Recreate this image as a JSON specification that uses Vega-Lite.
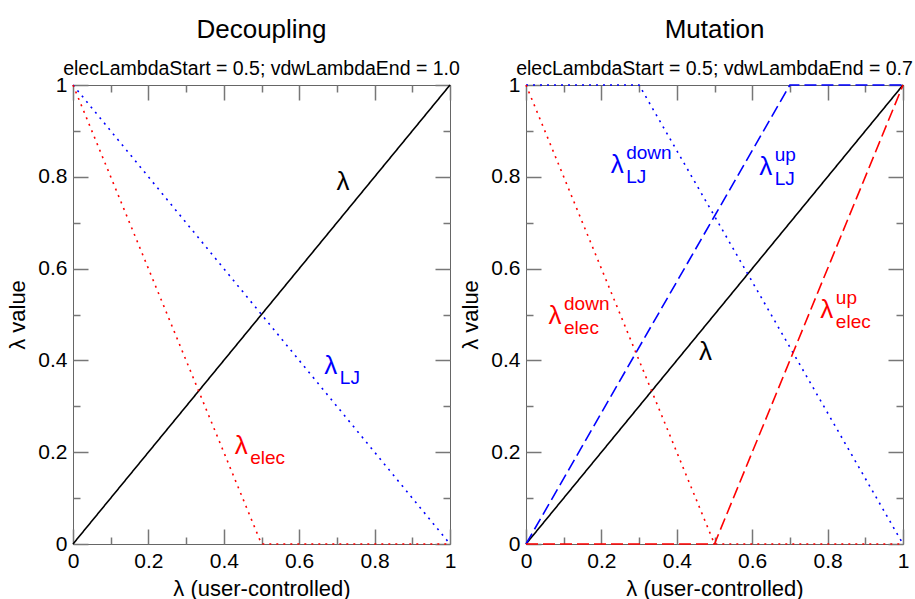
{
  "$schema": "https://vega.github.io/schema/vega-lite/v6.json",
  "padding": {"left": 6, "top": 16, "right": 0, "bottom": 0},
  "background": "white",
  "spacing": 76,
  "bounds": "flush",
  "datasets": {
    "lines": [
      {"panel": "L", "line": "lam", "group": "lam", "style": "solid", "x": 0, "y": 0},
      {"panel": "L", "line": "lam", "group": "lam", "style": "solid", "x": 1, "y": 1},
      {"panel": "L", "line": "LJ", "group": "LJ", "style": "dotted", "x": 0, "y": 1},
      {"panel": "L", "line": "LJ", "group": "LJ", "style": "dotted", "x": 1, "y": 0},
      {"panel": "L", "line": "elec", "group": "elec", "style": "dotted", "x": 0, "y": 1},
      {"panel": "L", "line": "elec", "group": "elec", "style": "dotted", "x": 0.5, "y": 0},
      {"panel": "L", "line": "elec", "group": "elec", "style": "dotted", "x": 1, "y": 0},
      {"panel": "R", "line": "lam", "group": "lam", "style": "solid", "x": 0, "y": 0},
      {"panel": "R", "line": "lam", "group": "lam", "style": "solid", "x": 1, "y": 1},
      {"panel": "R", "line": "LJup", "group": "LJ", "style": "dashed", "x": 0, "y": 0},
      {"panel": "R", "line": "LJup", "group": "LJ", "style": "dashed", "x": 0.7, "y": 1},
      {"panel": "R", "line": "LJup", "group": "LJ", "style": "dashed", "x": 1, "y": 1},
      {"panel": "R", "line": "LJdown", "group": "LJ", "style": "dotted", "x": 0, "y": 1},
      {"panel": "R", "line": "LJdown", "group": "LJ", "style": "dotted", "x": 0.3, "y": 1},
      {"panel": "R", "line": "LJdown", "group": "LJ", "style": "dotted", "x": 1, "y": 0},
      {"panel": "R", "line": "elecup", "group": "elec", "style": "dashed", "x": 0, "y": 0},
      {"panel": "R", "line": "elecup", "group": "elec", "style": "dashed", "x": 0.5, "y": 0},
      {"panel": "R", "line": "elecup", "group": "elec", "style": "dashed", "x": 1, "y": 1},
      {"panel": "R", "line": "elecdown", "group": "elec", "style": "dotted", "x": 0, "y": 1},
      {"panel": "R", "line": "elecdown", "group": "elec", "style": "dotted", "x": 0.5, "y": 0},
      {"panel": "R", "line": "elecdown", "group": "elec", "style": "dotted", "x": 1, "y": 0}
    ],
    "labels": [
      {"panel": "L", "group": "lam", "x": 0.716, "y": 0.789, "main": "λ", "sub": "", "sup": ""},
      {"panel": "L", "group": "LJ", "x": 0.684, "y": 0.388, "main": "λ", "sub": "LJ", "sup": ""},
      {"panel": "L", "group": "elec", "x": 0.446, "y": 0.214, "main": "λ", "sub": "elec", "sup": ""},
      {"panel": "R", "group": "LJ", "x": 0.242, "y": 0.826, "main": "λ", "sub": "LJ", "sup": "down"},
      {"panel": "R", "group": "LJ", "x": 0.636, "y": 0.821, "main": "λ", "sub": "LJ", "sup": "up"},
      {"panel": "R", "group": "elec", "x": 0.077, "y": 0.497, "main": "λ", "sub": "elec", "sup": "down"},
      {"panel": "R", "group": "elec", "x": 0.798, "y": 0.51, "main": "λ", "sub": "elec", "sup": "up"},
      {"panel": "R", "group": "lam", "x": 0.476, "y": 0.418, "main": "λ", "sub": "", "sup": ""}
    ]
  },
  "hconcat": [
    {
      "width": 377,
      "height": 459,
      "title": {"text": "Decoupling", "subtitle": "elecLambdaStart = 0.5; vdwLambdaEnd = 1.0"},
      "resolve": {"axis": {"x": "independent", "y": "independent"}},
      "layer": [
        {
          "data": {"name": "lines"},
          "transform": [{"filter": "datum.panel === 'L'"}],
          "mark": {"type": "line", "strokeWidth": 1.6, "strokeCap": "butt"},
          "encoding": {
            "x": {"field": "x", "type": "quantitative", "scale": {"domain": [0, 1], "nice": false},
              "axis": {"orient": "bottom", "values": [0, 0.2, 0.4, 0.6, 0.8, 1], "format": "~g", "offset": -15, "tickSize": 15, "tickColor": "#777777", "tickWidth": 1.5, "domain": false,
                "labelPadding": 6, "title": "λ (user-controlled)", "titlePadding": 7}},
            "y": {"field": "y", "type": "quantitative", "scale": {"domain": [0, 1], "nice": false},
              "axis": {"orient": "left", "values": [0, 0.2, 0.4, 0.6, 0.8, 1], "format": "~g", "offset": -15, "tickSize": 15, "tickColor": "#777777", "tickWidth": 1.5, "domain": false,
                "labelPadding": 6, "title": "λ value", "titlePadding": 8}},
            "color": {"field": "group", "type": "nominal", "scale": {"domain": ["lam", "LJ", "elec"], "range": ["#000000", "#0000ff", "#ff0000"]}, "legend": null},
            "strokeDash": {"field": "style", "type": "nominal", "scale": {"domain": ["solid", "dotted", "dashed"], "range": [[1, 0], [2, 5], [12, 5]]}, "legend": null},
            "detail": {"field": "line"}
          }
        },
        {
          "data": {"name": "labels"},
          "transform": [{"filter": "datum.panel === 'L'"}],
          "mark": {"type": "text", "fontSize": 26, "font": "Liberation Sans", "align": "center", "baseline": "middle"},
          "encoding": {
            "x": {"field": "x", "type": "quantitative",
              "axis": {"orient": "bottom", "values": [0.1, 0.3, 0.5, 0.7, 0.9], "labels": false, "title": null, "domain": false, "offset": -7, "tickSize": 7, "tickColor": "#777777", "tickWidth": 1.5}},
            "y": {"field": "y", "type": "quantitative",
              "axis": {"orient": "left", "values": [0.1, 0.3, 0.5, 0.7, 0.9], "labels": false, "title": null, "domain": false, "offset": -7, "tickSize": 7, "tickColor": "#777777", "tickWidth": 1.5}},
            "text": {"field": "main"},
            "color": {"field": "group", "type": "nominal", "legend": null}
          }
        },
        {
          "data": {"name": "labels"},
          "transform": [{"filter": "datum.panel === 'L'"}],
          "mark": {"type": "text", "fontSize": 19, "font": "Liberation Sans", "align": "left", "baseline": "middle", "dx": 9, "dy": 12},
          "encoding": {
            "x": {"field": "x", "type": "quantitative",
              "axis": {"orient": "top", "values": [0, 0.2, 0.4, 0.6, 0.8, 1], "labels": false, "title": null, "domain": false, "offset": -15, "tickSize": 15, "tickColor": "#777777", "tickWidth": 1.5}},
            "y": {"field": "y", "type": "quantitative",
              "axis": {"orient": "right", "values": [0, 0.2, 0.4, 0.6, 0.8, 1], "labels": false, "title": null, "domain": false, "offset": -15, "tickSize": 15, "tickColor": "#777777", "tickWidth": 1.5}},
            "text": {"field": "sub"},
            "color": {"field": "group", "type": "nominal", "legend": null}
          }
        },
        {
          "data": {"name": "labels"},
          "transform": [{"filter": "datum.panel === 'L'"}],
          "mark": {"type": "text", "fontSize": 19, "font": "Liberation Sans", "align": "left", "baseline": "middle", "dx": 9, "dy": -12},
          "encoding": {
            "x": {"field": "x", "type": "quantitative",
              "axis": {"orient": "top", "values": [0.1, 0.3, 0.5, 0.7, 0.9], "labels": false, "title": null, "domain": false, "offset": -7, "tickSize": 7, "tickColor": "#777777", "tickWidth": 1.5}},
            "y": {"field": "y", "type": "quantitative",
              "axis": {"orient": "right", "values": [0.1, 0.3, 0.5, 0.7, 0.9], "labels": false, "title": null, "domain": false, "offset": -7, "tickSize": 7, "tickColor": "#777777", "tickWidth": 1.5}},
            "text": {"field": "sup"},
            "color": {"field": "group", "type": "nominal", "legend": null}
          }
        }
      ]
    },
    {
      "width": 377,
      "height": 459,
      "title": {"text": "Mutation", "subtitle": "elecLambdaStart = 0.5; vdwLambdaEnd = 0.7"},
      "resolve": {"axis": {"x": "independent", "y": "independent"}},
      "layer": [
        {
          "data": {"name": "lines"},
          "transform": [{"filter": "datum.panel === 'R'"}],
          "mark": {"type": "line", "strokeWidth": 1.6, "strokeCap": "butt"},
          "encoding": {
            "x": {"field": "x", "type": "quantitative", "scale": {"domain": [0, 1], "nice": false},
              "axis": {"orient": "bottom", "values": [0, 0.2, 0.4, 0.6, 0.8, 1], "format": "~g", "offset": -15, "tickSize": 15, "tickColor": "#777777", "tickWidth": 1.5, "domain": false,
                "labelPadding": 6, "title": "λ (user-controlled)", "titlePadding": 7}},
            "y": {"field": "y", "type": "quantitative", "scale": {"domain": [0, 1], "nice": false},
              "axis": {"orient": "left", "values": [0, 0.2, 0.4, 0.6, 0.8, 1], "format": "~g", "offset": -15, "tickSize": 15, "tickColor": "#777777", "tickWidth": 1.5, "domain": false,
                "labelPadding": 6, "title": "λ value", "titlePadding": 8}},
            "color": {"field": "group", "type": "nominal", "scale": {"domain": ["lam", "LJ", "elec"], "range": ["#000000", "#0000ff", "#ff0000"]}, "legend": null},
            "strokeDash": {"field": "style", "type": "nominal", "scale": {"domain": ["solid", "dotted", "dashed"], "range": [[1, 0], [2, 5], [12, 5]]}, "legend": null},
            "detail": {"field": "line"}
          }
        },
        {
          "data": {"name": "labels"},
          "transform": [{"filter": "datum.panel === 'R'"}],
          "mark": {"type": "text", "fontSize": 26, "font": "Liberation Sans", "align": "center", "baseline": "middle"},
          "encoding": {
            "x": {"field": "x", "type": "quantitative",
              "axis": {"orient": "bottom", "values": [0.1, 0.3, 0.5, 0.7, 0.9], "labels": false, "title": null, "domain": false, "offset": -7, "tickSize": 7, "tickColor": "#777777", "tickWidth": 1.5}},
            "y": {"field": "y", "type": "quantitative",
              "axis": {"orient": "left", "values": [0.1, 0.3, 0.5, 0.7, 0.9], "labels": false, "title": null, "domain": false, "offset": -7, "tickSize": 7, "tickColor": "#777777", "tickWidth": 1.5}},
            "text": {"field": "main"},
            "color": {"field": "group", "type": "nominal", "legend": null}
          }
        },
        {
          "data": {"name": "labels"},
          "transform": [{"filter": "datum.panel === 'R'"}],
          "mark": {"type": "text", "fontSize": 19, "font": "Liberation Sans", "align": "left", "baseline": "middle", "dx": 9, "dy": 12},
          "encoding": {
            "x": {"field": "x", "type": "quantitative",
              "axis": {"orient": "top", "values": [0, 0.2, 0.4, 0.6, 0.8, 1], "labels": false, "title": null, "domain": false, "offset": -15, "tickSize": 15, "tickColor": "#777777", "tickWidth": 1.5}},
            "y": {"field": "y", "type": "quantitative",
              "axis": {"orient": "right", "values": [0, 0.2, 0.4, 0.6, 0.8, 1], "labels": false, "title": null, "domain": false, "offset": -15, "tickSize": 15, "tickColor": "#777777", "tickWidth": 1.5}},
            "text": {"field": "sub"},
            "color": {"field": "group", "type": "nominal", "legend": null}
          }
        },
        {
          "data": {"name": "labels"},
          "transform": [{"filter": "datum.panel === 'R'"}],
          "mark": {"type": "text", "fontSize": 19, "font": "Liberation Sans", "align": "left", "baseline": "middle", "dx": 9, "dy": -12},
          "encoding": {
            "x": {"field": "x", "type": "quantitative",
              "axis": {"orient": "top", "values": [0.1, 0.3, 0.5, 0.7, 0.9], "labels": false, "title": null, "domain": false, "offset": -7, "tickSize": 7, "tickColor": "#777777", "tickWidth": 1.5}},
            "y": {"field": "y", "type": "quantitative",
              "axis": {"orient": "right", "values": [0.1, 0.3, 0.5, 0.7, 0.9], "labels": false, "title": null, "domain": false, "offset": -7, "tickSize": 7, "tickColor": "#777777", "tickWidth": 1.5}},
            "text": {"field": "sup"},
            "color": {"field": "group", "type": "nominal", "legend": null}
          }
        }
      ]
    }
  ],
  "config": {
    "view": {"stroke": "#666666", "strokeWidth": 1},
    "font": "Liberation Sans",
    "title": {"fontSize": 26, "fontWeight": "normal", "font": "Liberation Sans", "color": "#000000", "subtitleFontSize": 19.5, "subtitleFont": "Liberation Sans", "subtitleColor": "#000000", "subtitlePadding": 17, "anchor": "middle", "frame": "group", "offset": -4},
    "axis": {"grid": false, "domainColor": "#666666", "domainWidth": 1,
      "labelFont": "Liberation Sans", "labelFontSize": 21, "labelColor": "#000000", "labelFlush": false, "labelOverlap": false,
      "titleFont": "Liberation Sans", "titleFontSize": 22, "titleFontWeight": "normal", "titleColor": "#000000"}
  }
}
